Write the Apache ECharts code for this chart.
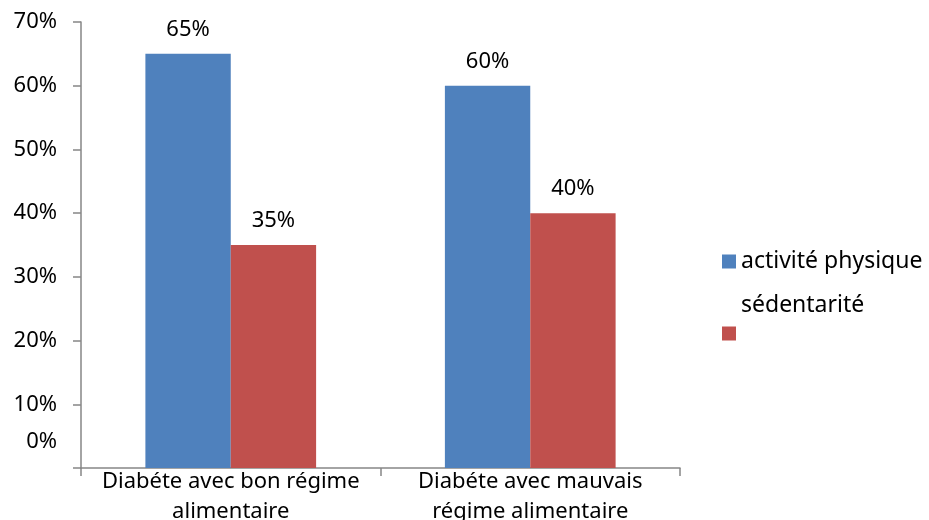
<!DOCTYPE html>
<html>
<head>
<meta charset="utf-8">
<script src="https://cdn.jsdelivr.net/npm/echarts@6/dist/echarts.min.js"></script>
<style>
html, body { margin: 0; padding: 0; background: #fff; }
#chart { width: 929px; height: 520px; }
</style>
</head>
<body>
<div id="chart"></div>
<script>
// données
const categories = ["Diabéte avec bon régime\nalimentaire", "Diabéte avec mauvais\nrégime alimentaire"];
const activite = [65, 60];
const sedentarite = [35, 40];
const seriesNames = ["activité physique", "sédentarité"];

const font = "Noto Sans";
const fs = 22;
const axisColor = "#868686";

const chart = echarts.init(document.getElementById("chart"));

const option = {
	animation: false,
	textStyle: { fontFamily: font, color: "#000" },
	grid: { left: 81, right: 249, top: 22, bottom: 52, outerBoundsMode: "none" },
	legend: [
		{
			data: [seriesNames[0]],
			orient: "vertical",
			left: 717,
			top: 245,
			itemWidth: 14,
			itemHeight: 14,
			icon: "rect",
			textStyle: { fontFamily: font, fontSize: 23, color: "#000" }
		},
		{
			data: [seriesNames[1]],
			orient: "vertical",
			left: 717,
			top: 289,
			itemWidth: 14,
			itemHeight: 14,
			icon: "rect",
			// le texte est placé au-dessus du carré comme dans l'original
			formatter: (name) => "{t|" + name + "}",
			textStyle: {
				fontFamily: font,
				fontSize: 23,
				color: "#000",
				rich: { t: { fontFamily: font, fontSize: 23, color: "#000", padding: [0, 0, 56, 0] } }
			}
		}
	],
	xAxis: {
		type: "category",
		data: categories,
		axisLine: { lineStyle: { color: axisColor, width: 1.5 } },
		axisTick: { show: true, length: 8, lineStyle: { color: axisColor, width: 1.5 } },
		axisLabel: {
			interval: 0,
			margin: -1,
			fontFamily: font,
			fontSize: fs,
			lineHeight: 30,
			color: "#000"
		}
	},
	yAxis: {
		type: "value",
		min: 0,
		max: 70,
		interval: 10,
		axisLine: { show: true, lineStyle: { color: axisColor, width: 1.5 } },
		axisTick: { show: true, length: 8, lineStyle: { color: axisColor, width: 1.5 } },
		splitLine: { show: false },
		axisLabel: {
			margin: 24,
			fontFamily: font,
			fontSize: fs,
			color: "#000",
			// le 0% est décalé vers le haut comme dans l'original
			formatter: (v) => (v === 0 ? "{z|0%}" : v + "%"),
			rich: { z: { fontFamily: font, fontSize: fs, color: "#000", padding: [0, 0, 52, 0] } }
		}
	},
	series: [
		{
			name: seriesNames[0],
			type: "bar",
			data: activite,
			barGap: "0%",
			barCategoryGap: "43%",
			itemStyle: { color: "#4F81BD" },
			label: {
				show: true,
				position: "top",
				distance: 13,
				formatter: "{c}%",
				fontFamily: font,
				fontSize: fs,
				color: "#000"
			}
		},
		{
			name: seriesNames[1],
			type: "bar",
			data: sedentarite,
			itemStyle: { color: "#C0504D" },
			label: {
				show: true,
				position: "top",
				distance: 13,
				formatter: "{c}%",
				fontFamily: font,
				fontSize: fs,
				color: "#000"
			}
		}
	]
};

chart.setOption(option);
</script>
</body>
</html>
